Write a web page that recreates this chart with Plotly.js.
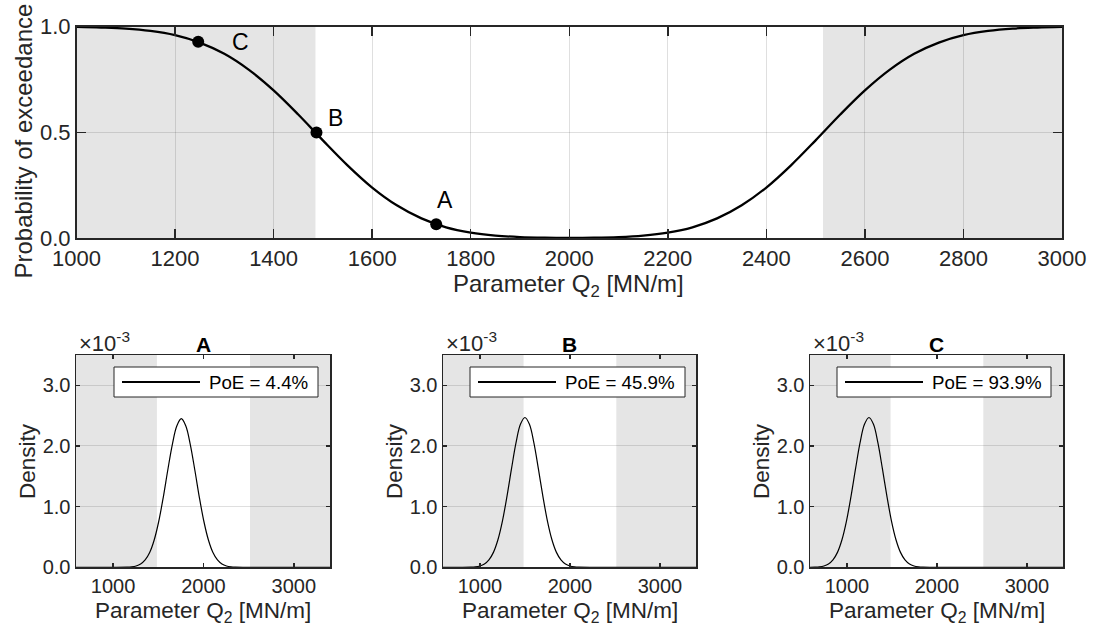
<!DOCTYPE html>
<html>
<head>
<meta charset="utf-8">
<script src="https://cdn.plot.ly/plotly-3.0.1.min.js"></script>
<style>html,body{margin:0;padding:0;background:#fff;}#chart{width:1097px;height:635px;}</style>
</head>
<body>
<div id="chart"></div>
<script>
// ---- Data ----
// Top panel: probability of exceedance vs parameter Q2
const poeX = [1000,1050,1100,1150,1200,1250,1300,1350,1400,1450,1500,1550,1600,1650,1700,1750,1800,1850,1900,1950,2000,
              2050,2100,2150,2200,2250,2300,2350,2400,2450,2500,2550,2600,2650,2700,2750,2800,2850,2900,2950,3000];
const poeY = [0.999,0.996,0.991,0.980,0.960,0.925,0.872,0.796,0.699,0.585,0.463,0.345,0.240,0.156,0.094,0.052,0.027,0.013,0.006,0.003,0.002,
              0.003,0.006,0.013,0.027,0.052,0.094,0.156,0.240,0.345,0.463,0.585,0.699,0.796,0.872,0.925,0.960,0.980,0.991,0.996,0.999];
// Marked points
const ptLabels = ["A","B","C"];
const ptX = [1730, 1487, 1247];
const ptY = [0.066, 0.500, 0.929];
const ptLabelX = [1748, 1525, 1332];
const ptLabelY = [0.181, 0.569, 0.927];

// Safe (white) band limits; shaded = outside
const bandLow = 1485;
const bandHigh = 2515;

// Density curves (values in units of 1e-3)
const densAX = [590,1155,1205,1255,1305,1355,1405,1455,1505,1555,1605,1655,1705,1755,1805,1855,1905,1955,2005,2055,2105,2155,2205,2255,2305,2355,3400];
const densAY = [0,0.003,0.008,0.022,0.054,0.121,0.244,0.450,0.755,1.150,1.600,2.020,2.330,2.450,2.330,2.020,1.600,1.150,0.755,0.450,0.244,0.121,0.054,0.022,0.008,0.003,0];
const densBX = [590,900,950,1000,1050,1100,1150,1200,1250,1300,1350,1400,1450,1500,1550,1600,1650,1700,1750,1800,1850,1900,1950,2000,2050,2100,3400];
const densBY = [0,0.003,0.008,0.022,0.054,0.122,0.246,0.454,0.762,1.165,1.617,2.046,2.357,2.470,2.357,2.046,1.617,1.165,0.762,0.454,0.246,0.122,0.054,0.022,0.008,0.003,0];
const densCX = [590,645,695,745,795,845,895,945,995,1045,1095,1145,1195,1245,1295,1345,1395,1445,1495,1545,1595,1645,1695,1745,1795,1845,3400];
const densCY = [0.001,0.003,0.008,0.022,0.054,0.122,0.246,0.454,0.762,1.165,1.617,2.046,2.357,2.470,2.357,2.046,1.617,1.165,0.762,0.454,0.246,0.122,0.054,0.022,0.008,0.003,0];
const panelTitles = ["A","B","C"];
const poeTexts = ["PoE = 4.4%","PoE = 45.9%","PoE = 93.9%"];

// ---- Layout helpers (pixel -> paper) ----
const W = 1097, H = 635;
const px = x => x / W;
const py = y => 1 - y / H;
const FONT = "Liberation Sans, Arial, Helvetica, sans-serif";
const TXT = "rgb(38,38,38)";
const GRID = "rgba(38,38,38,0.15)";
const SHADE = "rgb(229,229,229)";

const subLeft = [76, 443, 810];
const subRight = [330, 696, 1063];
const legendBox = [[114,318],[470,685],[837,1051]];

const traces = [
  {x: poeX, y: poeY, type: "scatter", mode: "lines", line: {color: "#000", width: 2.3, shape: "spline"},
   xaxis: "x", yaxis: "y", showlegend: false, hoverinfo: "x+y"},
  {x: ptX, y: ptY, type: "scatter", mode: "markers", marker: {color: "#000", size: 12},
   xaxis: "x", yaxis: "y", showlegend: false, text: ptLabels},
  {x: densAX, y: densAY, type: "scatter", mode: "lines", line: {color: "#000", width: 1.2, shape: "spline"},
   xaxis: "x2", yaxis: "y2", name: poeTexts[0], showlegend: false},
  {x: densBX, y: densBY, type: "scatter", mode: "lines", line: {color: "#000", width: 1.2, shape: "spline"},
   xaxis: "x3", yaxis: "y3", name: poeTexts[1], showlegend: false},
  {x: densCX, y: densCY, type: "scatter", mode: "lines", line: {color: "#000", width: 1.2, shape: "spline"},
   xaxis: "x4", yaxis: "y4", name: poeTexts[2], showlegend: false}
];

const axCommon = {
  showline: true, linecolor: TXT, linewidth: 1.5, mirror: "ticks",
  ticks: "inside", tickcolor: TXT, tickwidth: 1.5,
  zeroline: false, color: TXT, fixedrange: true,
  tickfont: {family: FONT, size: 20, color: TXT}
};

const layout = {
  width: W, height: H,
  margin: {l: 0, r: 0, t: 0, b: 0},
  paper_bgcolor: "#fff", plot_bgcolor: "#fff",
  font: {family: FONT, color: TXT},
  xaxis: Object.assign({}, axCommon, {domain: [px(76.5), px(1062)], range: [1000, 3000],
     tickvals: [1000,1200,1400,1600,1800,2000,2200,2400,2600,2800,3000], ticklen: 9,
     showgrid: true, gridcolor: GRID, gridwidth: 1, anchor: "y", tickfont: {family: FONT, size: 22, color: TXT}}),
  yaxis: Object.assign({}, axCommon, {domain: [py(238.3), py(26.7)], range: [0, 1],
     tickvals: [0, 0.5, 1], tickformat: ".1f", ticklen: 9,
     showgrid: true, gridcolor: GRID, gridwidth: 1, anchor: "x", tickfont: {family: FONT, size: 22, color: TXT}}),
  shapes: [],
  annotations: []
};

// Top panel shading
layout.shapes.push({type: "rect", xref: "x", yref: "y domain", x0: 1000, x1: bandLow, y0: 0, y1: 1,
  fillcolor: SHADE, line: {width: 0}, layer: "below"});
layout.shapes.push({type: "rect", xref: "x", yref: "y domain", x0: bandHigh, x1: 3000, y0: 0, y1: 1,
  fillcolor: SHADE, line: {width: 0}, layer: "below"});

// Top panel labels
for (let i = 0; i < ptLabels.length; i++) {
  layout.annotations.push({xref: "x", yref: "y", x: ptLabelX[i], y: ptLabelY[i], text: ptLabels[i],
    showarrow: false, font: {family: FONT, size: 23, color: "#000"}, xanchor: "center", yanchor: "middle"});
}
layout.annotations.push({xref: "paper", yref: "paper", x: px(569), y: py(285), text: "Parameter Q<sub>2</sub> [MN/m]",
  showarrow: false, font: {family: FONT, size: 24, color: TXT}, xanchor: "center", yanchor: "middle"});
layout.annotations.push({xref: "paper", yref: "paper", x: px(23), y: py(141.5), text: "Probability of exceedance",
  textangle: -90, showarrow: false, font: {family: FONT, size: 24, color: TXT}, xanchor: "center", yanchor: "middle"});

// Bottom panels
for (let k = 0; k < 3; k++) {
  const xa = "xaxis" + (k + 2), ya = "yaxis" + (k + 2);
  const xr = "x" + (k + 2), yr = "y" + (k + 2);
  layout[xa] = Object.assign({}, axCommon, {domain: [px(subLeft[k]), px(subRight[k])], range: [590, 3400],
    tickvals: [1000, 2000, 3000], ticklen: 4, showgrid: false, anchor: yr});
  layout[ya] = Object.assign({}, axCommon, {domain: [py(567.3), py(355)], range: [0, 3.5],
    tickvals: [0, 1, 2, 3], tickformat: ".1f", ticklen: 4, showgrid: true, gridcolor: GRID, anchor: xr});
  layout.shapes.push({type: "rect", xref: xr, yref: yr + " domain", x0: 590, x1: bandLow, y0: 0, y1: 1,
    fillcolor: SHADE, line: {width: 0}, layer: "below"});
  layout.shapes.push({type: "rect", xref: xr, yref: yr + " domain", x0: bandHigh, x1: 3400, y0: 0, y1: 1,
    fillcolor: SHADE, line: {width: 0}, layer: "below"});
  const cx = (subLeft[k] + subRight[k]) / 2;
  // panel title
  layout.annotations.push({xref: "paper", yref: "paper", x: px(cx), y: py(344), text: "<b>" + panelTitles[k] + "</b>",
    showarrow: false, font: {family: FONT, size: 21, color: "#000"}, xanchor: "center", yanchor: "middle"});
  // exponent label
  layout.annotations.push({xref: "paper", yref: "paper", x: px(subLeft[k] + 1), y: py(342), text: "×10<sup>-3</sup>",
    showarrow: false, font: {family: FONT, size: 22, color: TXT}, xanchor: "left", yanchor: "middle"});
  // y title
  layout.annotations.push({xref: "paper", yref: "paper", x: px(subLeft[k] - 49), y: py(461), text: "Density",
    textangle: -90, showarrow: false, font: {family: FONT, size: 22.5, color: TXT}, xanchor: "center", yanchor: "middle"});
  // x title
  layout.annotations.push({xref: "paper", yref: "paper", x: px(cx), y: py(612), text: "Parameter Q<sub>2</sub> [MN/m]",
    showarrow: false, font: {family: FONT, size: 22.5, color: TXT}, xanchor: "center", yanchor: "middle"});
  // legend box
  const lb = legendBox[k];
  layout.shapes.push({type: "rect", xref: "paper", yref: "paper", x0: px(lb[0]), x1: px(lb[1]), y0: py(397), y1: py(367),
    fillcolor: "#fff", line: {color: TXT, width: 1}, layer: "above"});
  layout.shapes.push({type: "line", xref: "paper", yref: "paper", x0: px(lb[0] + 8), x1: px(lb[0] + 86), y0: py(382), y1: py(382),
    line: {color: "#000", width: 2}, layer: "above"});
  layout.annotations.push({xref: "paper", yref: "paper", x: px(lb[0] + 93), y: py(382), text: poeTexts[k],
    showarrow: false, font: {family: FONT, size: 18.7, color: "#000"}, xanchor: "left", yanchor: "middle"});
}

Plotly.newPlot("chart", traces, layout, {staticPlot: true, displayModeBar: false});
</script>
</body>
</html>
